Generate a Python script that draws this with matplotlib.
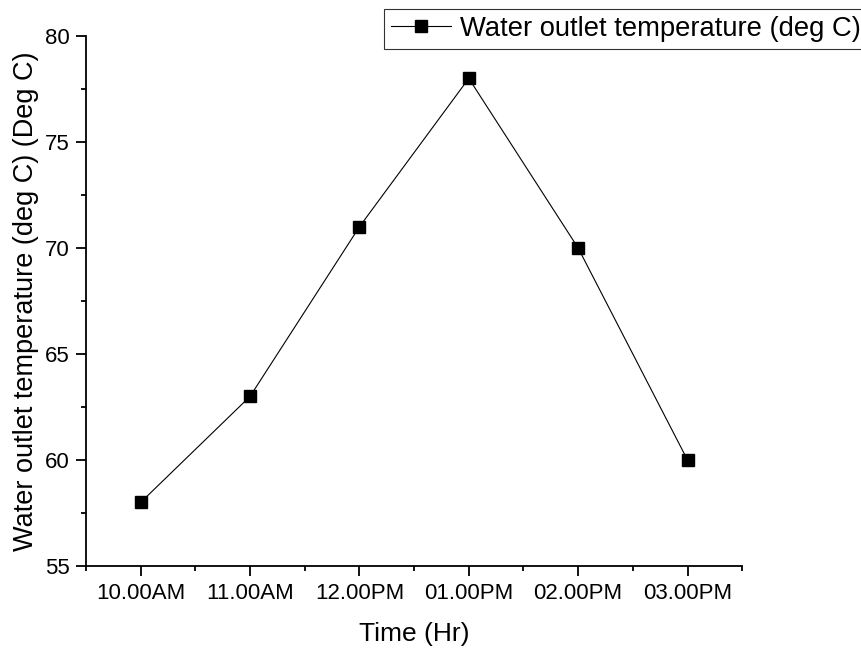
import matplotlib.pyplot as plt
from matplotlib.ticker import MultipleLocator

plt.rcParams['font.family'] = ['Liberation Sans', 'DejaVu Sans']

times = ['10.00AM', '11.00AM', '12.00PM', '01.00PM', '02.00PM', '03.00PM']
water_outlet = [58, 63, 71, 78, 70, 60]

fig = plt.figure(figsize=(8.62, 6.51), dpi=100)
ax = fig.add_axes([0.0998, 0.1306, 0.7612, 0.8141])

x = list(range(len(times)))
ax.plot(x, water_outlet, color='black', linewidth=0.8, marker='s',
        markersize=8, label='Water outlet temperature (deg C)')

ax.set_xlim(-0.5, len(times) - 0.5)
ax.set_ylim(55, 80)
ax.set_xticks(x)
ax.set_xticklabels(times)
ax.xaxis.set_minor_locator(MultipleLocator(0.5))
ax.yaxis.set_major_locator(MultipleLocator(5))
ax.yaxis.set_minor_locator(MultipleLocator(2.5))

for s in ['top', 'right']:
    ax.spines[s].set_visible(False)
for s in ['left', 'bottom']:
    ax.spines[s].set_linewidth(1.3)

ax.tick_params(which='major', direction='out', length=7, width=1.3, labelsize=16, pad=5)
ax.tick_params(which='minor', direction='out', length=3.6, width=1.3)

ax.set_xlabel('Time (Hr)', fontsize=19, labelpad=13)
ax.set_ylabel('Water outlet temperature (deg C) (Deg C)', fontsize=19.5, labelpad=4)

leg = ax.legend(loc='upper left', bbox_to_anchor=(384 / 862, 1 - 9 / 651),
                bbox_transform=fig.transFigure, fontsize=19.7, frameon=True,
                fancybox=False, borderpad=0.25, handlelength=2.2,
                handletextpad=0.33, borderaxespad=0)
leg.get_frame().set_edgecolor('black')
leg.get_frame().set_linewidth(0.8)

fig.savefig('out.png', dpi=100)
